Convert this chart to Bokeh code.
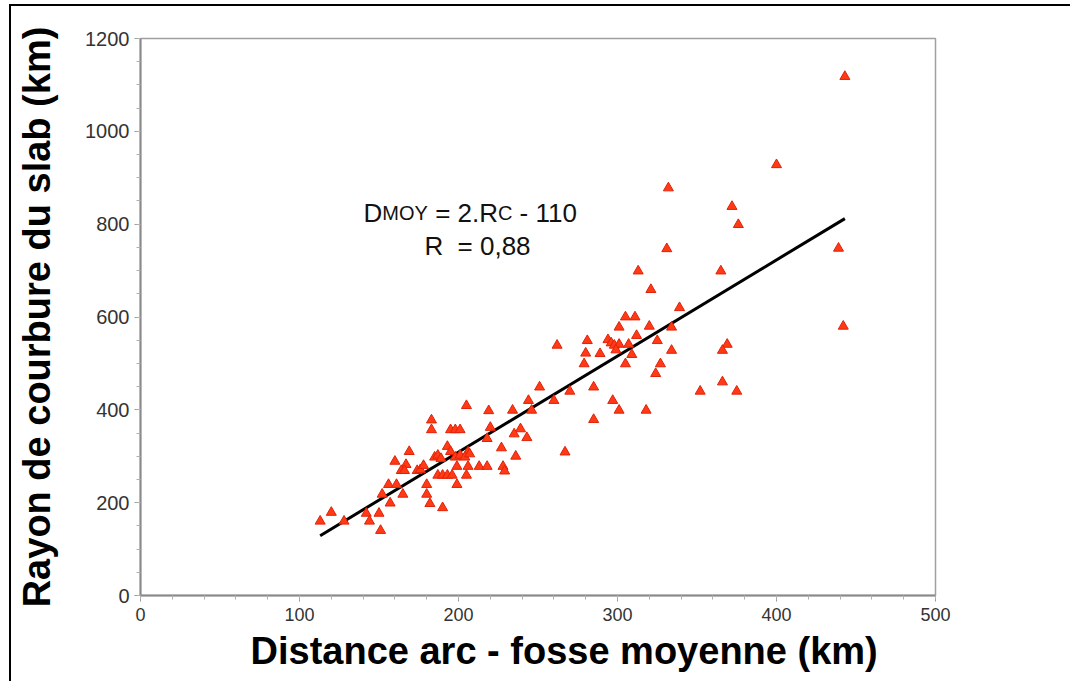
from bokeh.plotting import figure
from bokeh.models import Range1d, SingleIntervalTicker, Label, ColumnDataSource, Title
from bokeh.embed import file_html
from bokeh.resources import INLINE

# Distance arc - fosse moyenne (km)
dist_km = [205, 219, 183, 183, 195, 198, 201, 220, 218, 227, 169, 193, 195, 206,
           160, 167, 164, 166, 174, 176, 178, 185, 187, 189, 198, 201, 204, 207,
           199, 206, 213, 218, 228, 187, 190, 193, 196, 205, 199, 180, 156, 161,
           152, 165, 180, 157, 182, 190, 120, 113, 128, 142, 150, 144, 151,
           339, 305, 311, 301, 320, 334, 312, 325, 281, 262, 294, 296, 298, 301,
           299, 307, 280, 289, 309, 334, 279, 305, 327, 324, 251, 270, 285, 244,
           260, 297, 234, 246, 301, 318, 285, 239, 235, 243, 236, 267, 229,
           332, 372, 376, 331, 313, 365, 321, 369, 366, 366, 352, 375,
           443, 400, 439, 442]
# Rayon de courbure du slab (km)
rayon_km = [409, 398, 378, 357, 357, 357, 357, 362, 338, 318, 310, 321, 310, 309,
            289, 282, 269, 269, 269, 271, 280, 298, 302, 295, 298, 302, 298, 305,
            278, 278, 278, 278, 278, 259, 259, 259, 259, 259, 239, 239, 239, 239,
            218, 218, 218, 199, 198, 189, 179, 160, 160, 177, 177, 160, 140,
            620, 600, 600, 578, 580, 578, 560, 549, 549, 539, 551, 544, 539, 541,
            529, 541, 522, 521, 519, 528, 499, 499, 499, 478, 449, 440, 449, 420,
            420, 420, 399, 399, 399, 399, 379, 359, 348, 340, 300, 309, 268,
            878, 838, 799, 747, 699, 699, 659, 541, 528, 460, 440, 440,
            1118, 928, 748, 580]

# Regression line
fit_slope = 2.07
fit_intercept = -105.0

x_ticks_interval = 100
y_ticks_interval = 200

x_title = "Distance arc - fosse moyenne (km)"
y_title = "Rayon de courbure du slab (km)"

p = figure(frame_width=795, frame_height=557,
           min_border_left=129, min_border_right=135,
           min_border_top=32, min_border_bottom=86,
           x_range=Range1d(0, 500), y_range=Range1d(0, 1200),
           output_backend="svg", toolbar_location=None)
p.styles = {"margin-left": "9px", "margin-top": "4px",
            "border-left": "2px solid black", "border-top": "2px solid black"}

p.background_fill_color = "white"
p.border_fill_color = "white"
p.outline_line_color = "#a0a0a0"
p.outline_line_width = 1.5
p.xgrid.visible = False
p.ygrid.visible = False

p.xaxis.ticker = SingleIntervalTicker(interval=x_ticks_interval, num_minor_ticks=5)
p.yaxis.ticker = SingleIntervalTicker(interval=y_ticks_interval, num_minor_ticks=4)

for ax in (p.xaxis, p.yaxis):
    ax.axis_line_color = "#8a8a8a"
    ax.axis_line_width = 2
    ax.major_tick_line_color = "#9a9a9a"
    ax.minor_tick_line_color = "#b0b0b0"
    ax.major_tick_out = 6
    ax.major_tick_in = 0
    ax.minor_tick_out = 4
    ax.minor_tick_in = 0
    ax.major_label_text_font = "Liberation Sans"
    ax.major_label_text_color = "#333333"
    ax.axis_label_text_font = "Liberation Sans"
    ax.axis_label_text_font_style = "bold"
    ax.axis_label_text_font_size = "38px"
    ax.axis_label_text_color = "black"

p.xaxis.major_label_text_font_size = "18px"
p.yaxis.major_label_text_font_size = "20px"
p.xaxis.major_label_standoff = 6
p.yaxis.major_label_standoff = 5
p.yaxis.axis_label = y_title
p.yaxis.axis_label_standoff = 24

# x title (sits right of the frame centre in the original)
p.add_layout(Title(text=x_title, align="left", offset=110, standoff=8,
                   text_font="Liberation Sans", text_font_style="bold",
                   text_font_size="38px", text_color="black"), "below")

# regression line
lx = [min(dist_km), max(dist_km)]
ly = [fit_slope * v + fit_intercept for v in lx]
p.line(lx, ly, line_color="black", line_width=3)

src = ColumnDataSource(dict(x=dist_km, y=rayon_km))
p.scatter("x", "y", source=src, marker="triangle", size=10,
          fill_color="#ff3a14", line_color="#e0220a", line_width=1)

# annotation
big = "26px"
small = "20px"
y1, y2 = 825.0, 752.0
parts = [("D", 140.3, big), ("MOY", 152.1, small), ("= 2.R", 185.3, big),
         ("C", 224.8, small), ("- 110", 238.4, big)]
for t, xx, fs in parts:
    p.add_layout(Label(x=xx, y=y1, text=t, text_font="Liberation Sans",
                       text_font_size=fs, text_color="#111111",
                       text_baseline="alphabetic"))
p.add_layout(Label(x=178.6, y=y2, text="R", text_font="Liberation Sans",
                   text_font_size=big, text_color="#111111", text_baseline="alphabetic"))
p.add_layout(Label(x=199.4, y=y2, text="= 0,88", text_font="Liberation Sans",
                   text_font_size=big, text_color="#111111", text_baseline="alphabetic"))

open("out.html", "w").write(file_html(p, INLINE))
